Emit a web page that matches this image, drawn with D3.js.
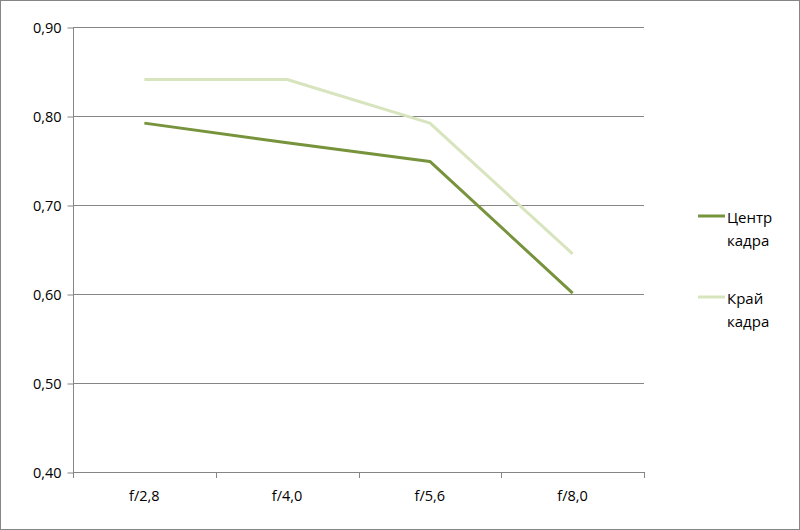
<!DOCTYPE html>
<html><head><meta charset="utf-8">
<script src="https://cdn.jsdelivr.net/npm/d3@7"></script>
<style>body{margin:0;background:#fff}svg{display:block;font-family:"Open Sans","DejaVu Sans",sans-serif}</style>
</head><body><svg id="c" width="800" height="530"></svg>
<script>
const categories = ["f/2,8", "f/4,0", "f/5,6", "f/8,0"];
const centerValues = [0.792, 0.770, 0.749, 0.601];
const edgeValues = [0.841, 0.841, 0.792, 0.645];
const yTicks = [0.40, 0.50, 0.60, 0.70, 0.80, 0.90];
const seriesNames = [["Центр", "кадра"], ["Край", "кадра"]];
const colors = ["#77933C", "#D7E4BD"];
const FS = 14.5;

const svg = d3.select("#c");
svg.append("rect").attr("x",0.5).attr("y",0.5).attr("width",799).attr("height",529)
  .attr("fill","#fff").attr("stroke","#868686");

const x = d3.scaleBand().domain(categories).range([73, 644]);
const y = d3.scaleLinear().domain([0.40, 0.90]).range([472, 27]);
const fmt = d => d.toFixed(2).replace(".", ",");

svg.append("g").selectAll("line").data(yTicks.slice(1)).join("line")
  .attr("x1",73).attr("x2",644).attr("y1",d=>Math.round(y(d))+0.5).attr("y2",d=>Math.round(y(d))+0.5)
  .attr("stroke","#868686").attr("stroke-width",1);

const ya = svg.append("g").attr("transform","translate(73.5,0.5)")
  .call(d3.axisLeft(y).tickValues(yTicks).tickFormat(fmt).tickSize(6).tickPadding(6));
ya.select(".domain").attr("stroke","#868686").attr("d","M0,"+y(0.9)+"V"+y(0.4));
ya.selectAll(".tick line").attr("stroke","#868686");
ya.selectAll("text").attr("font-size",FS).attr("fill","#000").attr("dy","0.35em").attr("font-family","Open Sans");

const xa = svg.append("g").attr("transform","translate(0,472.5)")
  .call(d3.axisBottom(x).tickSize(0).tickPadding(18));
xa.select(".domain").attr("stroke","#868686").attr("d","M73,0H644");
xa.selectAll("text").attr("font-size",FS).attr("fill","#000").attr("font-family","Open Sans");
const bounds = categories.map(c=>x(c)).concat([x.range()[1]]);
svg.append("g").selectAll("line").data(bounds).join("line")
  .attr("x1",d=>Math.round(d)+0.5).attr("x2",d=>Math.round(d)+0.5).attr("y1",472).attr("y2",478)
  .attr("stroke","#868686");

const line = d3.line().x((d,i)=>x(categories[i])+x.bandwidth()/2).y(d=>y(d));
[edgeValues, centerValues].forEach((vals,k)=>{
  const ci = k===0 ? 1 : 0;
  svg.append("path").attr("d", line(vals)).attr("fill","none")
    .attr("stroke", colors[ci]).attr("stroke-width",3).attr("stroke-linejoin","round");
});

const lg = svg.append("g");
[216, 297].forEach((ly,i)=>{
  lg.append("line").attr("x1",698).attr("x2",725).attr("y1",ly).attr("y2",ly)
    .attr("stroke",colors[i]).attr("stroke-width",3);
  seriesNames[i].forEach((t,j)=>{
    lg.append("text").attr("x",727).attr("y",ly+7+j*23).attr("font-size",15)
      .attr("font-family","Open Sans").attr("fill","#000").text(t);
  });
});
</script></body></html>
